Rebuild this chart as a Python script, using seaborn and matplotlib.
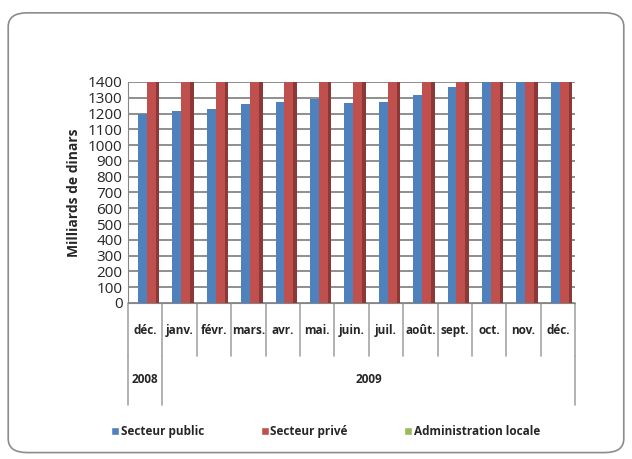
import numpy as np
import pandas as pd
import seaborn as sns
import matplotlib.pyplot as plt
from matplotlib.patches import FancyBboxPatch, Rectangle
import matplotlib.transforms as mtransforms

# data
months = ["déc.", "janv.", "févr.", "mars.", "avr.", "mai.", "juin.",
          "juil.", "août.", "sept.", "oct.", "nov.", "déc."]
years = ["2008", "2009"]
year_span = [1, 12]  # number of months in each year group
secteur_public = [1200, 1215, 1230, 1260, 1270, 1290, 1265, 1275, 1320, 1370, 1400, 1400, 1400]
secteur_prive = [1400, 1400, 1400, 1400, 1400, 1400, 1400, 1400, 1400, 1400, 1400, 1400, 1400]
admin_locale = [0, 0, 0, 0, 0, 0, 0, 0, 0, 0, 0, 0, 0]
series_names = ["Secteur public", "Secteur privé", "Administration locale"]
colors = ["#4F81BD", "#C0504D", "#9BBB59"]
side_colors = ["#3A6396", "#8C3836", "#71893F"]

slot = [f"{i}" for i in range(len(months))]
df = pd.DataFrame({
    "slot": slot * 3,
    "value": secteur_public + secteur_prive + admin_locale,
    "serie": [series_names[0]] * 13 + [series_names[1]] * 13 + [series_names[2]] * 13,
})

sns.set_style("white")
plt.rcParams["font.family"] = ["Open Sans", "DejaVu Sans"]

fig = plt.figure(figsize=(6.32, 4.59), dpi=100)
ax = fig.add_axes([0.2025, 0.34, 0.7075, 0.4815])

sns.barplot(data=df, x="slot", y="value", hue="serie", palette=colors,
            width=0.78, ax=ax, legend=False, saturation=1, zorder=3,
            linewidth=0, edgecolor="none")

# fake 3D side faces on the drawn bars
for bars, sc in zip(ax.containers, side_colors):
    for p in bars.patches:
        w = p.get_width()
        ax.add_patch(Rectangle((p.get_x() + w, 0), w * 0.4, p.get_height(),
                               facecolor=sc, edgecolor="none", zorder=2.9))

# categories are drawn slightly left of centre, as in the reference
d = 0.18
ax.set_ylim(0, 1400)
ax.set_yticks(np.arange(0, 1401, 100))
ax.tick_params(axis="y", labelsize=11, length=0, pad=4)
ax.yaxis.grid(True, color="#868686", linewidth=1.3, zorder=0)
ax.set_ylabel("Milliards de dinars", fontsize=10, fontweight="bold", labelpad=5)
ax.set_xlabel("")
ax.set_xticks([])
ax.set_xlim(-0.5 - d, len(months) - 0.5 - d)
for s in ["top", "right"]:
    ax.spines[s].set_visible(False)
ax.spines["left"].set_color("#868686")
ax.spines["bottom"].set_color("#868686")

# two-level category axis
trans = mtransforms.blended_transform_factory(ax.transData, ax.transAxes)
for i in range(len(months) + 1):
    ax.plot([i - 0.5 - d, i - 0.5 - d], [0, -0.24], transform=trans,
            color="#A6A6A6", linewidth=1.2, clip_on=False)
for i, m in enumerate(months):
    ax.text(i - d, -0.125, m, transform=trans, ha="center", va="center",
            fontsize=8.5, fontweight="bold")
start = 0
for y, n in zip(years, year_span):
    ax.plot([start - 0.5 - d, start - 0.5 - d], [-0.24, -0.46], transform=trans,
            color="#A6A6A6", linewidth=1.2, clip_on=False)
    ax.text(start + (n - 1) / 2 - d, -0.345, y, transform=trans, ha="center",
            va="center", fontsize=8.5, fontweight="bold")
    start += n
ax.plot([start - 0.5 - d, start - 0.5 - d], [-0.24, -0.46], transform=trans,
        color="#A6A6A6", linewidth=1.2, clip_on=False)

handles = [Rectangle((0, 0), 1, 1, facecolor=c) for c in colors]
fig.legend(handles, series_names, loc="center", bbox_to_anchor=(0.515, 0.059),
           ncol=3, frameon=False, handlelength=0.7, handleheight=0.7,
           handletextpad=0.1, columnspacing=4.8,
           prop={"size": 8.5, "weight": "bold"})

fig.patches.append(FancyBboxPatch((0.013, 0.014), 0.974, 0.958,
                                  boxstyle="round,pad=0,rounding_size=0.03",
                                  transform=fig.transFigure, facecolor="none",
                                  edgecolor="#8C8C8C", linewidth=1.2))

fig.savefig("out.png", dpi=100)
